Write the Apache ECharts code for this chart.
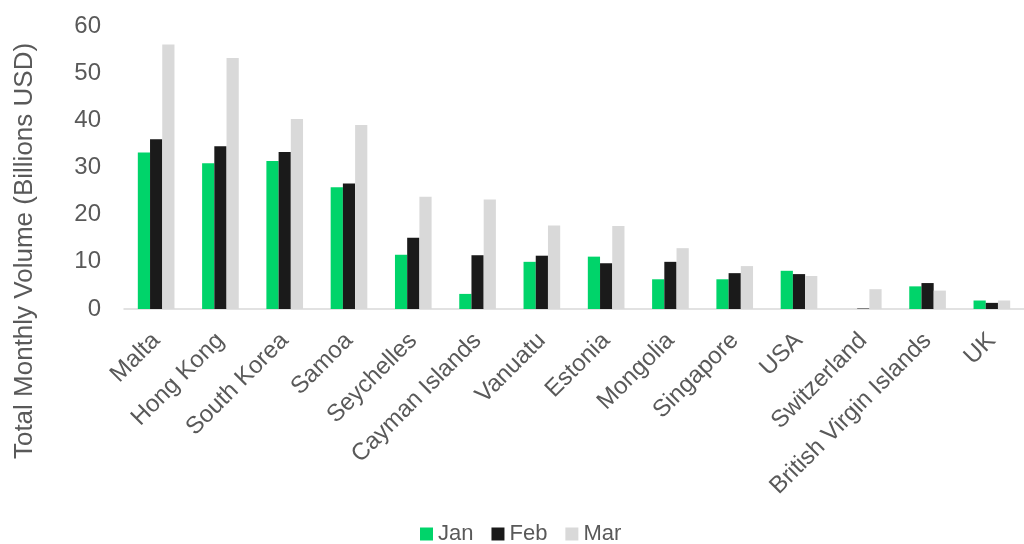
<!DOCTYPE html>
<html>
<head>
<meta charset="utf-8">
<script src="https://cdn.jsdelivr.net/npm/echarts@6/dist/echarts.min.js"></script>
<style>html,body{margin:0;padding:0;background:#fff}#c{width:1024px;height:544px}</style>
</head>
<body>
<div id="c"></div>
<script>
const categories = ['Malta','Hong Kong','South Korea','Samoa','Seychelles','Cayman Islands','Vanuatu','Estonia','Mongolia','Singapore','USA','Switzerland','British Virgin Islands','UK'];
const jan = [33.2, 30.9, 31.4, 25.8, 11.5, 3.2, 10.0, 11.1, 6.3, 6.3, 8.1, 0, 4.8, 1.8];
const feb = [36.0, 34.5, 33.3, 26.6, 15.1, 11.4, 11.3, 9.7, 10.0, 7.6, 7.4, 0.1, 5.5, 1.3];
const mar = [56.1, 53.2, 40.3, 39.0, 23.8, 23.2, 17.7, 17.6, 12.9, 9.1, 7.0, 4.2, 3.9, 1.8];
const yTicks = [0, 10, 20, 30, 40, 50, 60];
const yTitle = 'Total Monthly Volume (Billions USD)';

const font = 'Liberation Sans, Arial, sans-serif';
const txt = '#595959';
const chart = echarts.init(document.getElementById('c'));
chart.setOption({
  animation: false,
  textStyle: {fontFamily: font},
  legend: {
    top: 518, left: 415,
    itemWidth: 13, itemHeight: 13, itemGap: 18,
    icon: 'rect',
    textStyle: {fontSize: 22, color: txt, fontFamily: font},
    data: ['Jan', 'Feb', 'Mar']
  },
  graphic: [{
    type: 'text', x: 25, y: 251, rotation: Math.PI / 2,
    style: {text: yTitle, fontSize: 26, fill: txt, fontFamily: font, align: 'center', verticalAlign: 'middle'}
  }],
  grid: {left: 124, width: 911, top: 26, bottom: 235, containLabel: false},
  xAxis: {
    type: 'category', data: categories,
    axisLine: {lineStyle: {color: '#d9d9d9', width: 1.5}},
    axisTick: {show: false},
    axisLabel: {rotate: 45, interval: 0, fontSize: 24, color: txt, fontFamily: font, margin: 28}
  },
  yAxis: {
    type: 'value', min: yTicks[0], max: yTicks[yTicks.length - 1], interval: 10,
    axisLine: {show: false}, axisTick: {show: false}, splitLine: {show: false},
    axisLabel: {fontSize: 24, color: txt, fontFamily: font, margin: 23}
  },
  series: [
    {name: 'Jan', type: 'bar', data: jan, itemStyle: {color: '#00d46a'}, barGap: '0%', barCategoryGap: '43%'},
    {name: 'Feb', type: 'bar', data: feb, itemStyle: {color: '#1a1a1a'}, barGap: '0%', barCategoryGap: '43%'},
    {name: 'Mar', type: 'bar', data: mar, itemStyle: {color: '#d9d9d9'}, barGap: '0%', barCategoryGap: '43%'}
  ]
});
</script>
</body>
</html>
